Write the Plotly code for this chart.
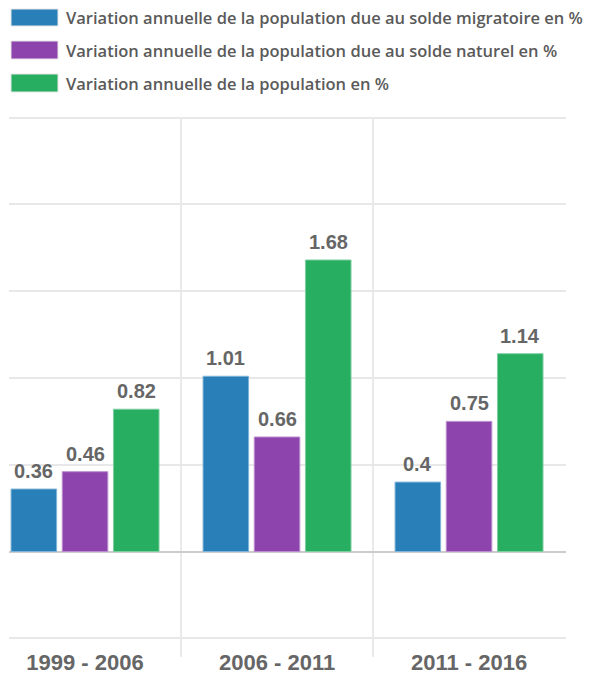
import plotly.graph_objects as go

categories = ["1999 - 2006", "2006 - 2011", "2011 - 2016"]
series_names = [
    "Variation annuelle de la population due au solde migratoire en %",
    "Variation annuelle de la population due au solde naturel en %",
    "Variation annuelle de la population en %",
]
migratoire = [0.36, 1.01, 0.4]
naturel = [0.46, 0.66, 0.75]
total = [0.82, 1.68, 1.14]
series_values = [migratoire, naturel, total]
colors = ["#2980b9", "#8e44ad", "#27ae60"]
borders = ["#7fb3d8", "#bb8fce", "#7dcea0"]
y_ticks = [-0.5, 0, 0.5, 1, 1.5, 2, 2.5]

W, H = 591, 675
L, R, T, B = 9, 25, 116, 35
pw, ph = W - L - R, H - T - B

bargap, bargroupgap = 0.2, 0.11
n = len(series_values)
slot = (1 - bargap) / n

xs = list(range(len(categories)))
fig = go.Figure()
for i, (name, vals) in enumerate(zip(series_names, series_values)):
    fig.add_trace(go.Bar(
        x=xs, y=vals, name=name,
        marker=dict(color=colors[i], line=dict(color=borders[i], width=1)),
        showlegend=False, hoverinfo="skip",
    ))
    for xi, v in zip(xs, vals):
        fig.add_annotation(
            x=xi + (i - (n - 1) / 2) * slot, y=v, xref="x", yref="y",
            text=f"<b>{v:g}</b>", showarrow=False, yanchor="bottom", yshift=5,
            font=dict(family="Liberation Sans, Arial", size=20, color="#666666"),
        )

# separators between categories
for xi in xs[:-1]:
    fig.add_shape(type="line", xref="x", yref="paper", x0=xi + 0.5, x1=xi + 0.5,
                  y0=1 - 2 / ph, y1=-(17 / ph), line=dict(color="#e3e3e3", width=1.5), layer="below")

# manual legend
def px_x(p):
    return (p - L) / pw

def px_y(p):
    return (H - B - p) / ph

rows = [(9, 26), (41, 59), (74, 92)]
for i, (y0, y1) in enumerate(rows):
    fig.add_shape(type="rect", xref="paper", yref="paper",
                  x0=px_x(11), x1=px_x(58), y0=px_y(y1), y1=px_y(y0),
                  fillcolor=colors[i], line=dict(color="#e6e6e6", width=1))
    fig.add_annotation(x=px_x(64), y=px_y((y0 + y1) / 2), xref="paper", yref="paper",
                       xanchor="left", yanchor="middle", showarrow=False,
                       text=series_names[i],
                       font=dict(family="Open Sans", size=16.5, color="#5a5a5a", weight=600))

fig.update_layout(
    width=W, height=H, margin=dict(l=L, r=R, t=T, b=B),
    paper_bgcolor="white", plot_bgcolor="white",
    barmode="group", bargap=bargap, bargroupgap=bargroupgap,
    xaxis=dict(range=[-0.396, 2.505], tickvals=xs, ticktext=[f"<b>{c}</b>" for c in categories],
               showgrid=False, zeroline=False, showline=False, ticks="",
               tickfont=dict(family="Liberation Sans, Arial", size=22, color="#666666"),
               ticklabelstandoff=7, automargin=False),
    yaxis=dict(range=[-0.51, 2.51], tickvals=y_ticks, showticklabels=False, automargin=False,
               showgrid=True, gridcolor="#e8e8e8", gridwidth=1.5,
               zeroline=True, zerolinecolor="#cccccc", zerolinewidth=1.5, showline=False),
)

fig.write_html("out.html")
